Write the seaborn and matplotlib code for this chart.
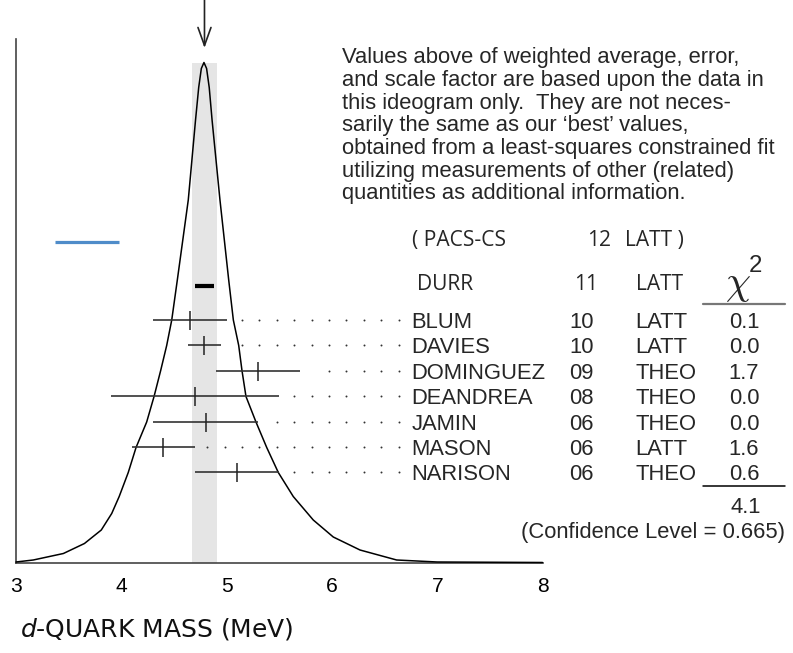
import numpy as np
import pandas as pd
import matplotlib
matplotlib.use("Agg")
import matplotlib.pyplot as plt
import seaborn as sns
from matplotlib.lines import Line2D

# ---------------- data ----------------
names = ["BLUM", "DAVIES", "DOMINGUEZ", "DEANDREA", "JAMIN", "MASON", "NARISON"]
years = ["10", "10", "09", "08", "06", "06", "06"]
techs = ["LATT", "LATT", "THEO", "THEO", "THEO", "LATT", "THEO"]
values = [4.65, 4.79, 5.3, 4.7, 4.8, 4.4, 5.1]
errors = [0.35, 0.16, 0.4, 0.8, 0.5, 0.3, 0.4]
chi2 = ["0.1", "0.0", "1.7", "0.0", "0.0", "1.6", "0.6"]
chi2_total = "4.1"
conf_level = "0.665"

avg_value = 4.79
avg_error = 0.12

pacs_name, pacs_year, pacs_tech = "PACS-CS", "12", "LATT"
pacs_range = [3.37, 3.98]
durr_name, durr_year, durr_tech = "DURR", "11", "LATT"
durr_range = [4.70, 4.88]

ideo_x = [3.0, 3.164, 3.45, 3.65, 3.81, 3.909, 3.98, 4.066, 4.14, 4.241, 4.311,
          4.374, 4.431, 4.479, 4.532, 4.636, 4.705, 4.735, 4.76, 4.785, 4.81,
          4.835, 4.862, 4.937, 5.02, 5.064, 5.115, 5.146, 5.184, 5.279, 5.381,
          5.491, 5.633, 5.823, 6.013, 6.267, 6.615, 7.0, 8.0]
ideo_h = [0.001, 0.005, 0.018, 0.038, 0.065, 0.098, 0.132, 0.180, 0.230, 0.281,
          0.332, 0.384, 0.434, 0.485, 0.565, 0.725, 0.885, 0.950, 0.988, 1.0,
          0.988, 0.950, 0.885, 0.725, 0.565, 0.485, 0.434, 0.384, 0.332, 0.281,
          0.230, 0.180, 0.132, 0.085, 0.051, 0.025, 0.005, 0.001, 0.0]

xticks = [3, 4, 5, 6, 7, 8]
xlabel = "$d$-QUARK MASS (MeV)"
note_lines = [
    "Values above of weighted average, error,",
    "and scale factor are based upon the data in",
    "this ideogram only.  They are not neces-",
    "sarily the same as our \u2018best\u2019 values,",
    "obtained from a least-squares constrained fit",
    "utilizing measurements of other (related)",
    "quantities as additional information.",
]

# ---------------- layout helpers ----------------
W, H = 793, 653
X0PX, PXU = 16.0, 105.3        # pixel of x=3, pixels per unit
BASE, PEAKPX = 562.5, 500.0    # baseline pixel, pixels per unit height


def fx(px):
    return px / W


def fy(py):
    return 1 - py / H


def hy(py):
    return (BASE - py) / PEAKPX


def pt(px):
    return px * 0.72


sns.set_style("white")
plt.rcParams["font.family"] = ["Liberation Sans", "DejaVu Sans"]
plt.rcParams["mathtext.fontset"] = "dejavusans"

fig = plt.figure(figsize=(W / 100, H / 100), dpi=100)
ax = fig.add_axes([0, 0, 1, 1])
ax.set_xlim(3 - X0PX / PXU, 3 + (W - X0PX) / PXU)
ax.set_ylim(hy(H), hy(0))
ax.patch.set_alpha(0)

# grey band for weighted average +- error
ax.fill_between([avg_value - avg_error, avg_value + avg_error], 0, max(ideo_h),
                color="#e5e5e5", lw=0, zorder=0)

# ideogram curve
curve = pd.DataFrame({"x": ideo_x, "h": ideo_h})
sns.lineplot(data=curve, x="x", y="h", ax=ax, color="black", lw=1.1,
             sort=True, estimator=None, zorder=3)
ax.lines[-1].set_solid_joinstyle("round")

# arrow for average
ax.annotate("", xy=(avg_value, hy(48)), xytext=(avg_value, hy(0)),
            arrowprops=dict(arrowstyle="->,head_length=0.5,head_width=0.18",
                            color="#222222", lw=1.2, mutation_scale=26,
                            shrinkA=0, shrinkB=0))

# rows
row_px = [320 + 25.4 * i for i in range(len(names))]
row_y = [hy(p) for p in row_px]
ax.errorbar(values, row_y, xerr=errors, fmt="none", ecolor="#333333",
            elinewidth=1.2, capsize=0, zorder=4)
ax.plot(values, row_y, ls="none", marker="|", ms=pt(19), mew=1.1,
        color="#222222", zorder=5)

# dotted leaders
dot_start, dot_step, dot_n, dot_gap = 4.8167, 0.1652, 12, 0.115
dgrid = dot_start + dot_step * np.arange(dot_n)
dx, dy = [], []
for v, e, y in zip(values, errors, row_y):
    sel = dgrid[dgrid > v + e + dot_gap]
    dx.extend(sel)
    dy.extend([y] * len(sel))
ax.scatter(dx, dy, s=2.0, color="#333333", lw=0, zorder=4)

# PACS-CS (blue) and DURR (black) markers
ax.plot(pacs_range, [hy(242)] * 2, color="#4f8cc9", lw=pt(3.2),
        solid_capstyle="butt", zorder=4)
ax.plot(durr_range, [hy(286)] * 2, color="black", lw=pt(4.2),
        solid_capstyle="butt", zorder=4)

# axes styling
for s in ["top", "right"]:
    ax.spines[s].set_visible(False)
ax.spines["left"].set_position(("data", 3))
ax.spines["bottom"].set_position(("data", 0))
ax.spines["left"].set_bounds(0, hy(39))
ax.spines["bottom"].set_bounds(3, 8)
for s in ["left", "bottom"]:
    ax.spines[s].set_color("#444444")
    ax.spines[s].set_linewidth(1.2)
ax.set_yticks([])
ax.set_xticks(xticks)
ax.set_xticklabels([str(t) for t in xticks])
ax.tick_params(axis="x", direction="in", length=pt(16), width=1.1,
               color="#333333", pad=pt(14), labelsize=pt(21), labelcolor="black")
ax.set_xlabel("")
ax.set_ylabel("")

# axis title
fig.text(fx(20), fy(636), xlabel, family="DejaVu Sans", fontsize=pt(25),
         ha="left", va="baseline", color="#111111")

# explanatory note
for i, line in enumerate(note_lines):
    fig.text(fx(341.5), fy(63.5 + 22.6 * i), line, fontsize=pt(22),
             ha="left", va="baseline")

# table text
fs = pt(22)
for name, yr, tc, c2, p in zip(names, years, techs, chi2, row_px):
    b = p + 7.9
    fig.text(fx(411.5), fy(b), name, fontsize=fs, ha="left", va="baseline")
    fig.text(fx(581.7), fy(b), yr, fontsize=fs, ha="center", va="baseline")
    fig.text(fx(635), fy(b), tc, fontsize=fs, ha="left", va="baseline")
    fig.text(fx(744), fy(b), c2, fontsize=fs, ha="center", va="baseline")

cal = ["Open Sans", "DejaVu Sans"]
fs2 = pt(21)
fig.text(fx(412), fy(246), "( " + pacs_name, family=cal, fontsize=fs2,
         ha="left", va="baseline")
fig.text(fx(599), fy(246), pacs_year, family=cal, fontsize=fs2,
         ha="center", va="baseline")
fig.text(fx(625), fy(246), pacs_tech + " )", family=cal, fontsize=fs2,
         ha="left", va="baseline")
fig.text(fx(416.5), fy(290.5), durr_name, family=cal, fontsize=fs2,
         ha="left", va="baseline")
fig.text(fx(586), fy(290.5), durr_year, family=cal, fontsize=fs2,
         ha="center", va="baseline")
fig.text(fx(636.5), fy(290.5), durr_tech, family=cal, fontsize=fs2,
         ha="left", va="baseline")

# chi-square header
fig.text(fx(725), fy(294), r"$\chi$", fontsize=pt(40), ha="left",
         va="baseline", math_fontfamily="cm")
fig.text(fx(749), fy(272), "2", fontsize=pt(24), ha="left", va="baseline")
fig.add_artist(Line2D([fx(703), fx(785)], [fy(304), fy(304)], color="#777777",
                      lw=1.6))
fig.add_artist(Line2D([fx(703), fx(785)], [fy(485.5), fy(485.5)],
                      color="black", lw=1.1))
fig.text(fx(746), fy(513), chi2_total, fontsize=fs, ha="center", va="baseline")
fig.text(fx(785), fy(538), "(Confidence Level = " + conf_level + ")",
         fontsize=fs, ha="right", va="baseline")

fig.savefig("out.png", dpi=100)
